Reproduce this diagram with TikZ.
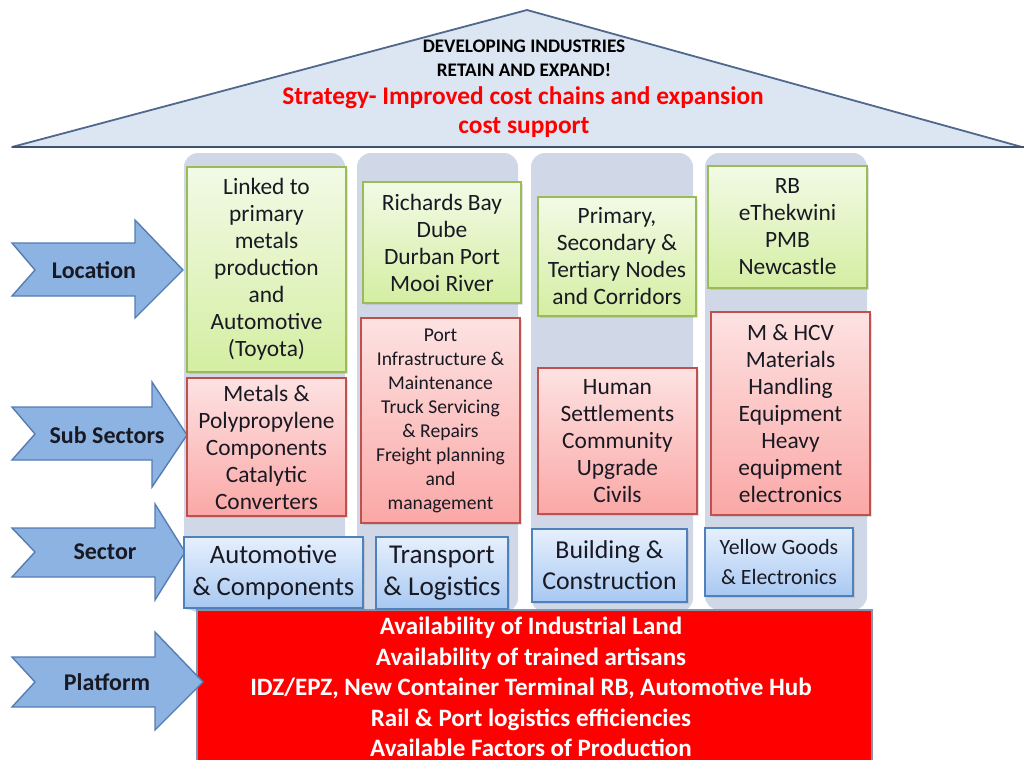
\documentclass[tikz,border=0pt]{standalone}
\usepackage{fontspec}
\setmainfont{Carlito}
\usetikzlibrary{fit,shadows}
\definecolor{roofFill}{RGB}{220,230,242}
\definecolor{roofLine}{RGB}{79,104,140}
\definecolor{colFill}{RGB}{208,216,231}
\definecolor{arrFill}{RGB}{141,179,226}
\definecolor{arrLine}{RGB}{84,125,180}
\definecolor{gTop}{RGB}{242,250,230}
\definecolor{gBot}{RGB}{212,238,162}
\definecolor{gLine}{RGB}{155,187,89}
\definecolor{rTop}{RGB}{253,226,226}
\definecolor{rBot}{RGB}{250,168,166}
\definecolor{rLine}{RGB}{192,80,77}
\definecolor{bTop}{RGB}{230,240,253}
\definecolor{bBot}{RGB}{168,200,242}
\definecolor{bLine}{RGB}{79,129,189}
\definecolor{platRed}{RGB}{255,0,0}
\definecolor{txtDark}{RGB}{25,25,35}
\newcommand\txtA{\fontsize{11.7}{13.5}\selectfont}
\newcommand\txtS{\fontsize{9.8}{12}\selectfont}
\tikzset{
  cellbox/.style={inner sep=0pt, line width=0.8pt,
    drop shadow={opacity=0.22, shadow xshift=1.2pt, shadow yshift=-1.2pt}},
  gbox/.style={cellbox, draw=gLine, top color=gTop, bottom color=gBot},
  rbox/.style={cellbox, draw=rLine, top color=rTop, bottom color=rBot},
  bbox/.style={cellbox, draw=bLine, top color=bTop, bottom color=bBot},
  celltext/.style={inner sep=0pt, align=center, text=txtDark, font=\txtA},
  column/.style={fill=colFill, rounded corners=7pt},
  bigarrow/.style={fill=arrFill, draw=arrLine, line width=0.7pt},
  arrlabel/.style={inner sep=0pt, font=\fontsize{12}{14}\selectfont\bfseries, text=txtDark},
  roofblack/.style={inner sep=0pt, font=\fontsize{9.6}{12}\selectfont\bfseries, text=black},
  roofred/.style={inner sep=0pt, font=\fontsize{12.7}{15}\selectfont\bfseries, text=platRed},
}
\begin{document}
\begin{tikzpicture}[x=0.5pt, y=-0.5pt]
\useasboundingbox (0,0) rectangle (1024,760);
\clip (0,0) rectangle (1024,760);
% roof
\draw[fill=roofFill, draw=roofLine, line width=0.9pt, line join=round] (12,147) -- (527,10) -- (1022,147) -- cycle;
\draw[roofLine!80!black, line width=1.2pt] (12,147) -- (1024,147);
\node[roofblack] (t1) at (524,46) {DEVELOPING INDUSTRIES};
\node[roofblack] (t2) at (524,70) {RETAIN AND EXPAND!};
\node[roofred] (t3) at (523,98) {Strategy- Improved cost chains and expansion};
\node[roofred] (t4) at (524,127) {cost support};
% columns
\path[column] (184,153) rectangle (345,612);
\path[column] (357,153) rectangle (518,612);
\path[column] (531,153) rectangle (693,612);
\path[column] (705,153) rectangle (867,610);
% platform
\node[fit={(197,610) (872,790)}, inner sep=0pt, fill=platRed, draw=roofLine!70, line width=0.6pt] (plat) {};
\node[inner sep=0pt, align=center, text=white, font=\fontsize{12.5}{15.25}\selectfont\bfseries] (plattext) at (531,687)
  {Availability of Industrial Land\\Availability of trained artisans\\IDZ/EPZ, New Container Terminal RB, Automotive Hub\\Rail \& Port logistics efficiencies\\Available Factors of Production};
% arrows
\draw[bigarrow] (12,243) -- (135,243) -- (135,220) -- (183,270) -- (135,318) -- (135,296) -- (12,296) -- (35,270) -- cycle;
\draw[bigarrow] (12,407) -- (152,407) -- (152,382) -- (187,435) -- (152,487) -- (152,460) -- (12,460) -- (35,434) -- cycle;
\draw[bigarrow] (12,528) -- (155,528) -- (155,504) -- (185,552) -- (155,600) -- (155,577) -- (12,577) -- (35,552) -- cycle;
\draw[bigarrow] (12,657) -- (155,657) -- (155,632) -- (203,682) -- (155,730) -- (155,707) -- (12,707) -- (35,682) -- cycle;
\node[arrlabel] (lLoc) at (94,270) {Location};
\node[arrlabel] (lSub) at (107,435) {Sub Sectors};
\node[arrlabel] (lSec) at (105,552) {Sector};
\node[arrlabel] (lPla) at (107,682) {Platform};
% location boxes
\node[gbox, fit={(187,167) (346,372)}] (g1) {};
\node[gbox, fit={(363,182) (521,303)}] (g2) {};
\node[gbox, fit={(538,197) (696,316)}] (g3) {};
\node[gbox, fit={(708,166) (867,288)}] (g4) {};
\node[celltext] (g1t) at (g1.center) {Linked to\\primary\\metals\\production\\and\\Automotive\\(Toyota)};
\node[celltext] (g2t) at (g2.center) {Richards Bay\\Dube\\Durban Port\\Mooi River};
\node[celltext] (g3t) at (g3.center) {Primary,\\Secondary \&\\Tertiary Nodes\\and Corridors};
\node[celltext] (g4t) at (g4.center) {RB\\eThekwini\\PMB\\Newcastle};
% sub sector boxes
\node[rbox, fit={(187,378) (346,516)}] (r1) {};
\node[rbox, fit={(361,318) (520,523)}] (r2) {};
\node[rbox, fit={(538,368) (697,514)}] (r3) {};
\node[rbox, fit={(711,312) (870,515)}] (r4) {};
\node[celltext] (r1t) at (r1.center) {Metals \&\\Polypropylene\\Components\\Catalytic\\Converters};
\node[celltext, font=\txtS] (r2t) at (r2.center) {Port\\Infrastructure \&\\Maintenance\\Truck Servicing\\\& Repairs\\Freight planning\\and\\management};
\node[celltext] (r3t) at (r3.center) {Human\\Settlements\\Community\\Upgrade\\Civils};
\node[celltext] (r4t) at (r4.center) {M \& HCV\\Materials\\Handling\\Equipment\\Heavy\\equipment\\electronics};
% sector boxes
\node[bbox, fit={(184,537) (363,608)}] (b1) {};
\node[bbox, fit={(376,537) (508,609)}] (b2) {};
\node[bbox, fit={(532,529) (687,602)}] (b3) {};
\node[bbox, fit={(705,528) (853,596)}] (b4) {};
\node[celltext, font=\fontsize{13.3}{16}\selectfont] (b1t) at (b1.center) {Automotive\\\& Components};
\node[celltext, font=\fontsize{13.6}{16}\selectfont] (b2t) at (b2.center) {Transport\\\& Logistics};
\node[celltext, font=\fontsize{12.9}{15.5}\selectfont] (b3t) at (b3.center) {Building \&\\Construction};
\node[celltext, font=\fontsize{10.9}{15}\selectfont] (b4t) at (b4.center) {Yellow Goods\\\& Electronics};
\end{tikzpicture}
\end{document}
